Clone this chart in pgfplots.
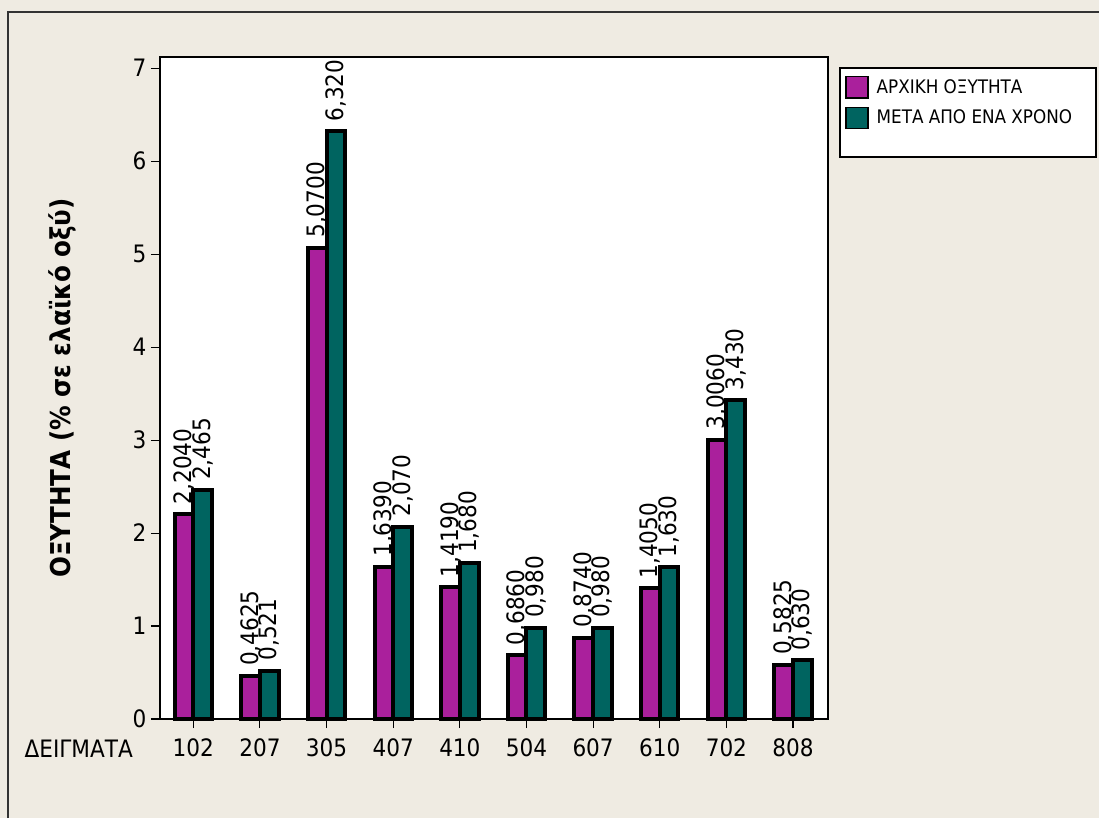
\documentclass[border=0pt]{standalone}
\usepackage{fontspec}
\setmainfont{DejaVu Sans Condensed}
\usepackage{pgfplots}
\usepackage{pgfplotstable}
\pgfplotsset{compat=1.18}

\definecolor{bgbeige}{RGB}{239,235,226}
\definecolor{barmag}{RGB}{170,32,156}
\definecolor{barteal}{RGB}{0,100,96}

% acidity per sample: initial value and after one year
\pgfplotstableread{
x initial final linit lfinal
1  2.2040 2.465 2,2040 2,465
2  0.4625 0.521 0,4625 0,521
3  5.0700 6.320 5,0700 6,320
4  1.6390 2.070 1,6390 2,070
5  1.4190 1.680 1,4190 1,680
6  0.6860 0.980 0,6860 0,980
7  0.8740 0.980 0,8740 0,980
8  1.4050 1.630 1,4050 1,630
9  3.0060 3.430 3,0060 3,430
10 0.5825 0.630 0,5825 0,630
}\acidity

\begin{document}
\begin{tikzpicture}[x=1pt,y=1pt]
\useasboundingbox (0,0) rectangle (824.25,613.5);
\fill[bgbeige] (0,0) rectangle (824.25,613.5);
\draw[line width=1.2pt, black!80] (6,0) -- (6,604.5) -- (824.25,604.5);
% legend frame
\filldraw[fill=white, draw=black, line width=0.9pt] (630,562.5) rectangle (822,495.75);

\begin{axis}[
  at={(120pt,74.25pt)}, anchor=south west,
  scale only axis, width=501pt, height=496.5pt,
  axis background/.style={fill=white},
  axis line style={line width=0.8pt},
  clip=false,
  xmin=0.5, xmax=10.525, ymin=0, ymax=7.12,
  ybar=0pt, bar width=14pt,
  xtick={1,...,10},
  xticklabels={102,207,305,407,410,504,607,610,702,808},
  ytick={0,...,7},
  tick pos=left, tick align=outside,
  major tick length=6.75pt,
  tick style={line width=0.8pt, black},
  /pgf/number format/assume math mode=true,
  tick label style={font=\fontsize{18}{21}\selectfont},
  xticklabel style={anchor=base, yshift=-21.5pt},
  ylabel={\bfseries ΟΞΥΤΗΤΑ (\% σε ελαϊκό οξύ)},
  ylabel style={at={(axis description cs:-0.1463,0.5)}, anchor=center, rotate=0,
    font=\fontsize{20.5}{24}\selectfont},
  nodes near coords,
  point meta=explicit symbolic,
  every node near coord/.append style={rotate=90, anchor=west,
    font=\fontsize{18}{21}\selectfont, inner xsep=6pt, inner ysep=0pt, black},
  legend cell align=left,
  legend style={at={(axis description cs:1.0254,0.9720)}, anchor=north west,
    draw=none, fill=none, inner sep=0pt, row sep=6pt,
    font=\fontsize{14}{16}\selectfont, nodes={inner sep=2pt},
    /tikz/every odd column/.append style={column sep=4pt}},
  legend image code/.code={\draw[#1, draw=black, line width=1.1pt] (0pt,-8pt) rectangle (16.5pt,8pt);},
  extra description/.code={
    \node[anchor=base east, inner sep=0pt, font=\fontsize{18}{21}\selectfont]
      at (axis description cs:-0.0403,-0.0574) {ΔΕΙΓΜΑΤΑ};
  },
]
\addplot[fill=barmag, draw=black, line width=3pt] table[x=x, y=initial, meta=linit] {\acidity};
\addplot[fill=barteal, draw=black, line width=3pt] table[x=x, y=final, meta=lfinal] {\acidity};
\legend{ΑΡΧΙΚΗ ΟΞΥΤΗΤΑ, ΜΕΤΑ ΑΠΟ ΕΝΑ ΧΡΟΝΟ}
\end{axis}
\end{tikzpicture}
\end{document}
